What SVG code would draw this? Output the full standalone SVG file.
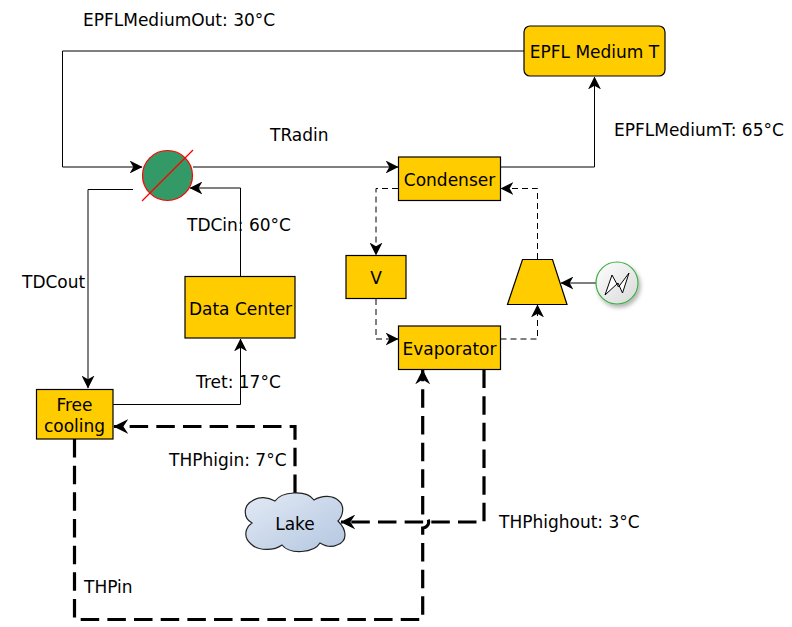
<svg xmlns="http://www.w3.org/2000/svg" width="792" height="627" viewBox="0 0 792 627">
<style>
text{font-family:"DejaVu Sans",sans-serif;font-size:17px;fill:#000}
.m{text-anchor:middle}
.box{fill:#ffcc00;stroke:#000;stroke-width:1.2}
.c{fill:none;stroke:#000;stroke-width:1}
.d{fill:none;stroke:#000;stroke-width:1;stroke-dasharray:6 4}
.t{fill:none;stroke:#000;stroke-width:3.200;stroke-dasharray:18.500 8.170}
</style>
<defs>
<linearGradient id="lk" x1="0" y1="0" x2="1" y2="1"><stop offset="0" stop-color="#e3eaf5"/><stop offset="1" stop-color="#b3c6e0"/></linearGradient>
<linearGradient id="gr" x1="0" y1="0" x2="1" y2="1"><stop offset="0" stop-color="#ffffff"/><stop offset="1" stop-color="#d8d8d8"/></linearGradient>
<filter id="sh" x="-30%" y="-30%" width="170%" height="170%"><feDropShadow dx="2" dy="3" stdDeviation="2" flood-color="#000" flood-opacity="0.3"/></filter>
<marker id="a" viewBox="0 0 12 12" refX="11.500" refY="6" markerWidth="13" markerHeight="13" orient="auto" markerUnits="userSpaceOnUse"><path d="M0 0L12 6L0 12L3.500 6Z" fill="#000"/></marker>
<marker id="b" viewBox="0 0 12 12" refX="11.500" refY="6" markerWidth="15" markerHeight="15" orient="auto" markerUnits="userSpaceOnUse"><path d="M0 0L12 6L0 12L4 6Z" fill="#000"/></marker>
</defs>
<g id="connectors">
<path class="c" d="M524 51H62.500V167H142" marker-end="url(#a)"/>
<path class="c" d="M193 167H398" marker-end="url(#a)"/>
<path class="c" d="M500 167H594.500V77" marker-end="url(#a)"/>
<path class="c" d="M133 189.500H88V388" marker-end="url(#a)"/>
<path class="c" d="M240.500 276V188H190" marker-end="url(#a)"/>
<path class="c" d="M113 404.500H240.500V339" marker-end="url(#a)"/>
<path class="d" d="M398 188.500H376V255" marker-end="url(#a)"/>
<path class="d" d="M376 299V339H398" marker-end="url(#a)"/>
<path class="d" d="M500.500 339H537.500V305" marker-end="url(#a)"/>
<path class="d" d="M537.500 259V188.500H501" marker-end="url(#a)"/>
<path class="c" d="M596 283H561" marker-end="url(#a)"/>
<path class="t" d="M295 493V426.500H114" marker-end="url(#b)"/>
<path class="t" d="M484 369.500V522H341" marker-end="url(#b)"/>
<path class="t" d="M74.500 439V619.500H422.700V528A6 6 0 0 0 422.700 516V370" marker-end="url(#b)"/>
</g>
<g id="heat-exchanger">
<circle cx="167.500" cy="175.500" r="25" fill="#339966" stroke="#ff0000" stroke-width="1.200"/>
<path d="M142 201L193 150" stroke="#ff0000" stroke-width="1.200" fill="none"/>
</g>
<g id="epfl-medium-t"><rect class="box" x="524" y="26" width="141" height="50" rx="6"/><text class="m" x="594.500" y="58">EPFL Medium T</text></g>
<g id="condenser"><rect class="box" x="398.500" y="157" width="102" height="43.500"/><text class="m" x="449.500" y="186">Condenser</text></g>
<g id="v"><rect class="box" x="346" y="255.500" width="60" height="43"/><text class="m" x="376" y="284">V</text></g>
<g id="evaporator"><rect class="box" x="398.500" y="326" width="102" height="43.500"/><text class="m" x="449.500" y="355">Evaporator</text></g>
<g id="compressor"><path class="box" d="M522.500 259.500H552.500L567 304.500H507.500Z"/></g>
<g id="power"><circle cx="617" cy="283" r="21" fill="url(#gr)" stroke="#3cb043" stroke-width="1.200" filter="url(#sh)"/><path d="M605 295L612 275L618.500 287L629 273L622.500 293L618 283Z" fill="#fff" stroke="#000" stroke-width="1"/></g>
<g id="data-center"><rect class="box" x="185" y="276.500" width="110" height="61.500"/><text class="m" x="240.500" y="314.500">Data Center</text></g>
<g id="free-cooling"><rect class="box" x="36.500" y="389.500" width="76.500" height="49.500"/><text class="m" x="74.500" y="410.500">Free</text><text class="m" x="74.500" y="431.500">cooling</text></g>
<g id="lake"><path d="M252 523C243 518 243 506 252 501C259 496 268 497 275 501C281 492 306 489 314 500C322 495 333 495 339 501C345 506 343 516 338 521C347 530 348 541 337 545C331 548 325 546 320 543C314 553 290 555 282 545C274 551 258 551 251 544C243 537 245 528 252 523Z" fill="url(#lk)" stroke="#222" stroke-width="1.200"/><text class="m" x="295" y="529.500">Lake</text></g>
<g id="labels">
<text x="83" y="25.500">EPFLMediumOut: 30°C</text>
<text x="270" y="140.500">TRadin</text>
<text x="614" y="135.500">EPFLMediumT: 65°C</text>
<text x="187" y="230.500">TDCin: 60°C</text>
<text x="22" y="287.500">TDCout</text>
<text x="196" y="387.500">Tret: 17°C</text>
<text x="169" y="466">THPhigin: 7°C</text>
<text x="499" y="527.500">THPhighout: 3°C</text>
<text x="84" y="592.500">THPin</text>
</g>
</svg>
